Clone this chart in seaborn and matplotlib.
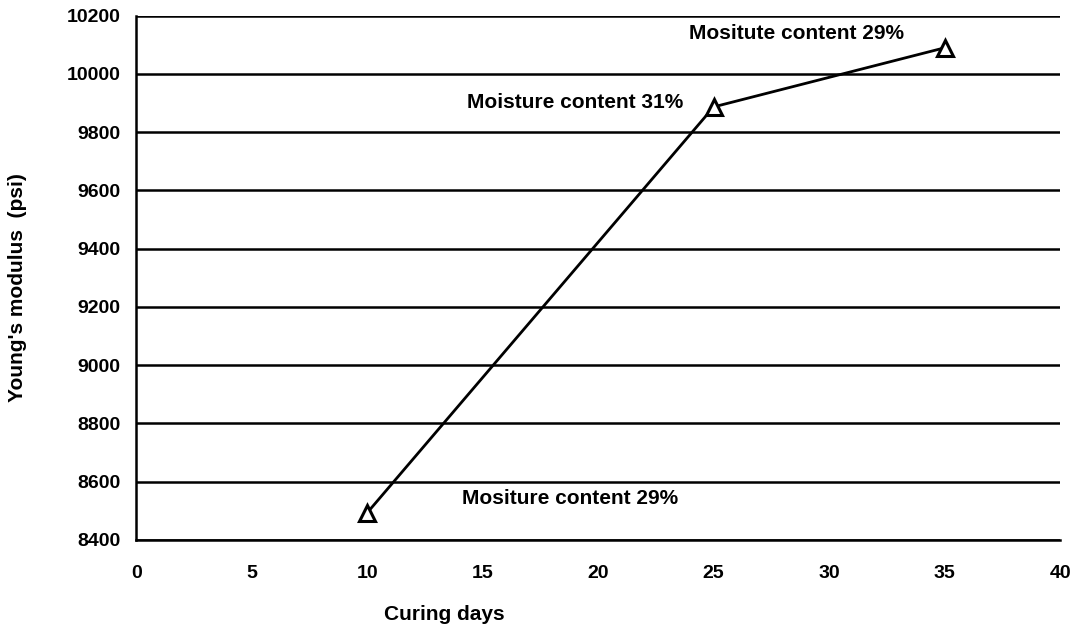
import matplotlib
matplotlib.use("Agg")
import matplotlib.pyplot as plt
import seaborn as sns
import pandas as pd

curing_days = [10, 25, 35]
youngs_modulus = [8493, 9887, 10090]
annotations = ["Mositure content 29%", "Moisture content 31%", "Mositute content 29%"]
annot_x = [18.8, 19.0, 28.6]
annot_y = [8541, 9901, 10138]
x_ticks = [0, 5, 10, 15, 20, 25, 30, 35, 40]
y_ticks = [8400, 8600, 8800, 9000, 9200, 9400, 9600, 9800, 10000, 10200]

sns.set_style("white")
plt.rcParams['font.family'] = ['Liberation Sans', 'DejaVu Sans']
plt.rcParams['font.weight'] = 'bold'
plt.rcParams['text.color'] = 'black'
plt.rcParams['axes.labelcolor'] = 'black'
plt.rcParams['xtick.color'] = 'black'
plt.rcParams['ytick.color'] = 'black'

df = pd.DataFrame({"days": curing_days, "E": youngs_modulus})

fig = plt.figure(figsize=(10.72, 6.30), dpi=100)
ax = fig.add_axes([0.127, 0.143, 0.862, 0.832])

for yv in y_ticks:
    ax.axhline(yv, color="black", lw=1.8, zorder=1)

sns.lineplot(data=df, x="days", y="E", ax=ax, color="black", lw=2,
             marker="^", markersize=11.5, markerfacecolor="white",
             markeredgecolor="black", markeredgewidth=2.2, zorder=3)

for t, xv, yv in zip(annotations, annot_x, annot_y):
    ax.text(xv, yv, t, ha="center", va="center", fontsize=15,
            fontweight="bold", color="black")

ax.set_xlim(0, 40)
ax.set_ylim(8400, 10200)
ax.set_xticks(x_ticks)
ax.set_yticks(y_ticks)
ax.tick_params(axis="both", direction="out", length=5, width=1.5,
               labelsize=14, color="black", labelcolor="black")
ax.tick_params(axis="x", pad=13)
ax.tick_params(axis="y", pad=6)
for lab in ax.get_xticklabels() + ax.get_yticklabels():
    lab.set_fontweight("bold")

for s in ["top", "right"]:
    ax.spines[s].set_visible(False)
for s in ["left", "bottom"]:
    ax.spines[s].set_linewidth(1.8)
    ax.spines[s].set_color("black")

ax.set_xlabel("Curing days", fontsize=15, fontweight="bold", va="center")
ax.set_ylabel("Young's modulus  (psi)", fontsize=15, fontweight="bold", va="center")
ax.xaxis.set_label_coords(0.333, -0.143)
ax.yaxis.set_label_coords(-0.128, 0.481)

fig.savefig("out.png", dpi=100)
